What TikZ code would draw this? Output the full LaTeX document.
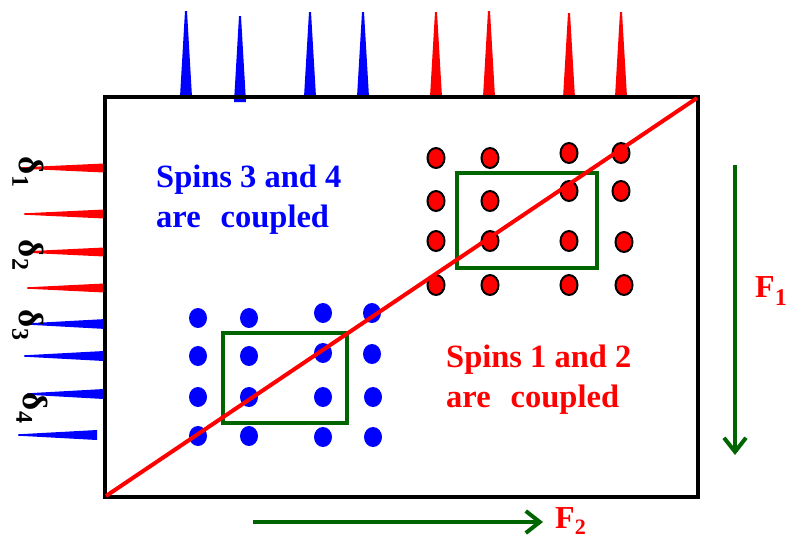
\documentclass[tikz,border=0pt]{standalone}
\usepackage{fontspec}
\setmainfont{Liberation Serif}
\usetikzlibrary{arrows.meta,shapes.geometric}
\definecolor{dgreen}{RGB}{0,100,0}
\begin{document}
\begin{tikzpicture}[x=1pt,y=-1pt,
  redpeak/.style={fill=red,draw=none},
  bluepeak/.style={fill=blue,draw=none},
  reddot/.style={ellipse,draw=black,line width=2pt,fill=red,minimum width=17pt,minimum height=20pt,inner sep=0pt},
  bluedot/.style={ellipse,draw=none,fill=blue,minimum width=18pt,minimum height=20pt,inner sep=0pt},
  gbox/.style={draw=dgreen,line width=4pt},
  garrow/.style={draw=dgreen,line width=4pt,-{Straight Barb[length=14pt,width=22pt]}},
  bigtxt/.style={font=\fontsize{32.5}{40}\selectfont\bfseries,inner sep=0pt},
  dlabel/.style={font=\fontsize{35}{36}\selectfont\bfseries,inner sep=0pt,rotate=-90,text=black},
  flabel/.style={font=\fontsize{32}{34}\selectfont\bfseries,inner sep=0pt,text=red,anchor=base west}
]
\useasboundingbox (0,0) rectangle (787,539);
% top peaks
\foreach \x/\t/\b in {186/11/97,240/16/102,310/12/97,363/12/97}
  \fill[bluepeak] (\x-6,\b) -- (\x-1,\t) -- (\x+1,\t) -- (\x+6,\b) -- cycle;
\foreach \x/\t/\b in {436/12/97,489/11/97,569/13/98,621/12/97}
  \fill[redpeak] (\x-6,\b) -- (\x-1,\t) -- (\x+1,\t) -- (\x+6,\b) -- cycle;
% left peaks
\foreach \y/\t/\b in {168/22/104,214/24/104,252/25/104,288/27/104}
  \fill[redpeak] (\b,\y-4.5) -- (\t,\y-0.7) -- (\t,\y+0.7) -- (\b,\y+4.5) -- cycle;
\foreach \y/\t/\b in {324/28/106,356/24/104,394/27/104,435/18/97}
  \fill[bluepeak] (\b,\y-5) -- (\t,\y-0.7) -- (\t,\y+0.7) -- (\b,\y+5) -- cycle;
% frame
\draw[line width=4pt] (105,97) rectangle (698,497);
% green boxes
\draw[gbox] (457,173) rectangle (597,268);
\draw[gbox] (223,333) rectangle (347,423);
% red dots
\node[reddot] (r11) at (436,158) {};
\node[reddot] (r12) at (490,158) {};
\node[reddot] (r13) at (569,153) {};
\node[reddot] (r14) at (621,153) {};
\node[reddot] (r21) at (436,201) {};
\node[reddot] (r22) at (490,201) {};
\node[reddot] (r23) at (569,191) {};
\node[reddot] (r24) at (621,191) {};
\node[reddot] (r31) at (436,241) {};
\node[reddot] (r32) at (490,241) {};
\node[reddot] (r33) at (569,241) {};
\node[reddot] (r34) at (624,242) {};
\node[reddot] (r41) at (436,285) {};
\node[reddot] (r42) at (490,285) {};
\node[reddot] (r43) at (569,285) {};
\node[reddot] (r44) at (624,285) {};
% blue dots
\node[bluedot] (b11) at (198,318) {};
\node[bluedot] (b12) at (249,318) {};
\node[bluedot] (b13) at (323,313) {};
\node[bluedot] (b14) at (372,313) {};
\node[bluedot] (b21) at (198,356) {};
\node[bluedot] (b22) at (249,356) {};
\node[bluedot] (b23) at (323,353) {};
\node[bluedot] (b24) at (372,354) {};
\node[bluedot] (b31) at (198,397) {};
\node[bluedot] (b32) at (249,397) {};
\node[bluedot] (b33) at (323,397) {};
\node[bluedot] (b34) at (373,397) {};
\node[bluedot] (b41) at (198,436) {};
\node[bluedot] (b42) at (249,436) {};
\node[bluedot] (b43) at (323,437) {};
\node[bluedot] (b44) at (373,437) {};
% diagonal
\coordinate (dA) at (106,496);
\coordinate (dB) at (697,98);
\draw[red,line width=4pt] (dA) -- (dB);
% texts
\node[bigtxt,text=blue,anchor=base west] (t1) at (156,187) {Spins 3 and 4};
\node[bigtxt,text=blue,anchor=base west] (t2) at (156,227) {are\hspace{20pt}coupled};
\node[bigtxt,text=red,anchor=base west] (t3) at (446,367) {Spins 1 and 2};
\node[bigtxt,text=red,anchor=base west] (t4) at (446,407) {are\hspace{20pt}coupled};
% delta labels
\node[dlabel] (d1) at (28,172) {δ\raisebox{-7pt}{\fontsize{24}{24}\selectfont 1}};
\node[dlabel] (d2) at (28,255) {δ\raisebox{-7pt}{\fontsize{24}{24}\selectfont 2}};
\node[dlabel] (d3) at (28,325) {δ\raisebox{-7pt}{\fontsize{24}{24}\selectfont 3}};
\node[dlabel] (d4) at (32,408) {δ\raisebox{-7pt}{\fontsize{24}{24}\selectfont 4}};
% F arrows
\coordinate (f1s) at (735,165);
\coordinate (f1e) at (735,455);
\draw[garrow] (f1s) -- (f1e);
\coordinate (f2s) at (253,522);
\coordinate (f2e) at (543,522);
\draw[garrow] (f2s) -- (f2e);
\node[flabel] (F1) at (755,297) {F\raisebox{-8pt}{\fontsize{24}{24}\selectfont 1}};
\node[flabel] (F2) at (555,528) {F\raisebox{-6pt}{\fontsize{22}{22}\selectfont 2}};
\end{tikzpicture}
\end{document}
